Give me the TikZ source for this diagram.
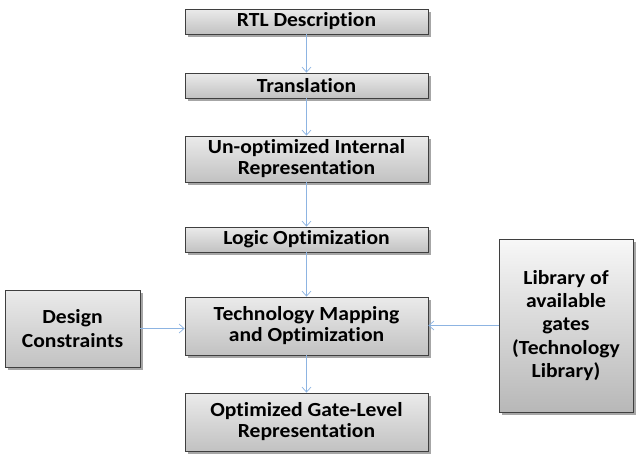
\documentclass[tikz,border=0pt]{standalone}
\usepackage{fontspec}
\setmainfont{Carlito}[FakeStretch=1.08,Ligatures=NoCommon]
\usetikzlibrary{arrows.meta,shadows}
\definecolor{arrowblue}{HTML}{8DB4E2}
\definecolor{boxborder}{HTML}{3F3F3F}
\begin{document}
\begin{tikzpicture}[x=1pt,y=-1pt,
  box/.style={draw=boxborder,line width=0.8pt,rectangle,inner sep=0pt,
    top color=white!92!black,bottom color=white!76!black,
    drop shadow={shadow xshift=2.5pt,shadow yshift=-2.5pt,fill=black,opacity=0.35},
    align=center,font=\bfseries\fontsize{20}{21}\selectfont},
  sidebox/.style={box,font=\bfseries\fontsize{20}{23.3}\selectfont},
  flow/.style={draw=arrowblue,line width=0.8pt,-{Straight Barb[length=5pt,width=9pt,line width=0.7pt]}}]
\useasboundingbox (0,0) rectangle (640,458);
\node[box,minimum width=243pt,minimum height=25pt] (rtl) at (306.5,21.5) {RTL Description};
\node[box,minimum width=243pt,minimum height=25pt] (trans) at (306.5,85.5) {Translation};
\node[box,minimum width=243pt,minimum height=46pt] (unopt) at (306.5,159) {Un-optimized Internal\\Representation};
\node[box,minimum width=243pt,minimum height=25pt] (logic) at (306.5,239.5) {Logic Optimization};
\node[box,minimum width=243pt,minimum height=58pt] (tech) at (306.5,326) {Technology Mapping\\and Optimization};
\node[box,minimum width=243pt,minimum height=58pt] (opt) at (306.5,422) {Optimized Gate-Level\\Representation};
\node[sidebox,minimum width=135pt,minimum height=77pt] (design) at (72.5,328.5) {Design\\Constraints};
\node[sidebox,minimum width=134pt,minimum height=173pt,top color=white!97!black,bottom color=white!72!black] (lib) at (566,325.5) {Library of\\available\\gates\\(Technology\\Library)};
\draw[flow] (rtl) -- (trans);
\draw[flow] (trans) -- (unopt);
\draw[flow] (unopt) -- (logic);
\draw[flow] (logic) -- (tech);
\draw[flow] (tech) -- (opt);
\draw[flow] (design.east) -- (design.east -| tech.west);
\draw[flow] (lib.west) -- (lib.west -| tech.east);
\end{tikzpicture}
\end{document}
